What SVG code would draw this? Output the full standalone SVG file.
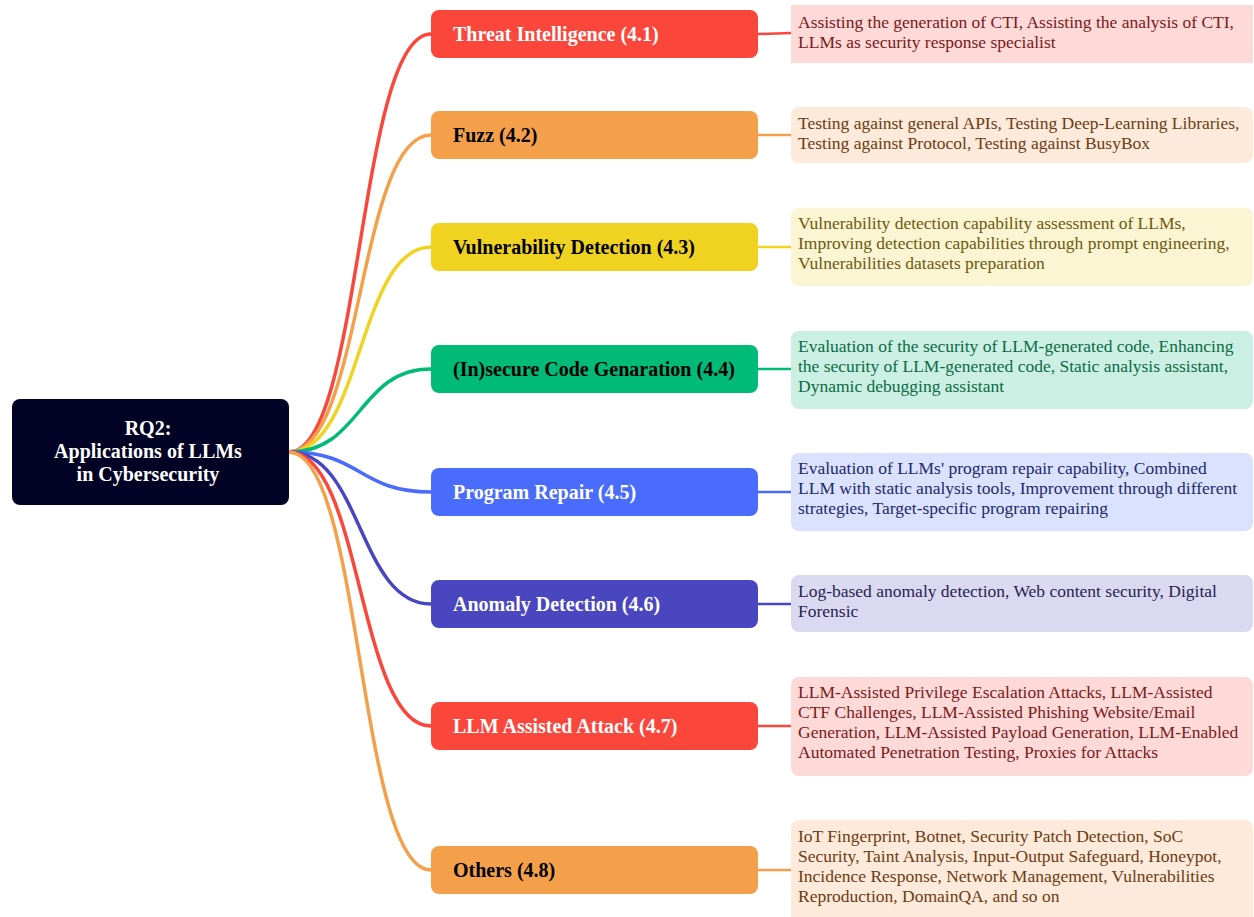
<svg xmlns="http://www.w3.org/2000/svg" width="1254" height="917" viewBox="0 0 1254 917">
<style>
.root{fill:#020224}
.rt{font-family:"Liberation Serif",serif;font-weight:bold;font-size:20px;fill:#fff;text-anchor:middle}
.bt{font-family:"Liberation Serif",serif;font-weight:bold;font-size:20px}
.lt{font-family:"Liberation Serif",serif;font-size:17.5px}
.c{fill:none;stroke-width:3.5;stroke-linecap:round}
.w{fill:#fff}.k{fill:#000}
</style>
<rect width="1254" height="917" fill="#fff"/>
<g id="connectors">
<path class="c" stroke="#fb463c" d="M289,452 C362,452 358,34 431,34"/>
<path class="c" stroke="#f4a04b" d="M289,452 C362,452 358,135 431,135"/>
<path class="c" stroke="#f0d320" d="M289,452 C362,452 358,247 431,247"/>
<path class="c" stroke="#00bb77" d="M289,452 C362,452 358,369 431,369"/>
<path class="c" stroke="#4a6cfc" d="M289,452 C362,452 358,492 431,492"/>
<path class="c" stroke="#4a46bf" d="M289,452 C362,452 358,604 431,604"/>
<path class="c" stroke="#fb463c" d="M289,452 C362,452 358,726 431,726"/>
<path class="c" stroke="#f4a04b" d="M289,452 C362,452 358,870 431,870"/>
<g stroke-width="2.5" fill="none">
<path stroke="#fb463c" d="M758,34 L791,33"/>
<path stroke="#f4a04b" d="M758,135 L791,135"/>
<path stroke="#f0d320" d="M758,247 L791,247"/>
<path stroke="#00bb77" d="M758,369 L791,369"/>
<path stroke="#4a6cfc" d="M758,492 L791,492"/>
<path stroke="#4a46bf" d="M758,604 L791,604"/>
<path stroke="#fb463c" d="M758,726 L791,726"/>
<path stroke="#f4a04b" d="M758,870 L791,870"/>
</g>
</g>
<g id="root">
<rect class="root" x="12" y="399" width="277" height="106" rx="8"/>
<text class="rt" x="148" y="435">RQ2:</text>
<text class="rt" x="148" y="458">Applications of LLMs</text>
<text class="rt" x="148" y="481">in Cybersecurity</text>
</g>
<g id="b1"><rect x="431" y="10" width="327" height="48" rx="8" fill="#fb463c"/><text class="bt w" x="453" y="41">Threat Intelligence (4.1)</text></g>
<g id="b2"><rect x="431" y="111" width="327" height="48" rx="8" fill="#f4a04b"/><text class="bt k" x="453" y="142">Fuzz (4.2)</text></g>
<g id="b3"><rect x="431" y="223" width="327" height="48" rx="8" fill="#f0d320"/><text class="bt k" x="453" y="254">Vulnerability Detection (4.3)</text></g>
<g id="b4"><rect x="431" y="345" width="327" height="48" rx="8" fill="#00bb77"/><text class="bt k" x="453" y="376">(In)secure Code Genaration (4.4)</text></g>
<g id="b5"><rect x="431" y="468" width="327" height="48" rx="8" fill="#4a6cfc"/><text class="bt w" x="453" y="499">Program Repair (4.5)</text></g>
<g id="b6"><rect x="431" y="580" width="327" height="48" rx="8" fill="#4a46bf"/><text class="bt w" x="453" y="611">Anomaly Detection (4.6)</text></g>
<g id="b7"><rect x="431" y="702" width="327" height="48" rx="8" fill="#fb463c"/><text class="bt w" x="453" y="733">LLM Assisted Attack (4.7)</text></g>
<g id="b8"><rect x="431" y="846" width="327" height="48" rx="8" fill="#f4a04b"/><text class="bt k" x="453" y="877">Others (4.8)</text></g>
<g id="l1"><rect x="791" y="5" width="462" height="58" fill="#fdd9d8"/>
<text class="lt" fill="#7a1a1a" x="798"><tspan x="798" y="28">Assisting the generation of CTI, Assisting the analysis of CTI,</tspan><tspan x="798" y="48">LLMs as security response specialist</tspan></text></g>
<g id="l2"><rect x="791" y="107" width="462" height="56" rx="8" fill="#fdeadb"/>
<text class="lt" fill="#6b3c14"><tspan x="798" y="129">Testing against general APIs, Testing Deep-Learning Libraries,</tspan><tspan x="798" y="149">Testing against Protocol, Testing against BusyBox</tspan></text></g>
<g id="l3"><rect x="791" y="208" width="462" height="78" rx="8" fill="#fcf5d3"/>
<text class="lt" fill="#6b5a10"><tspan x="798" y="229">Vulnerability detection capability assessment of LLMs,</tspan><tspan x="798" y="249">Improving detection capabilities through prompt engineering,</tspan><tspan x="798" y="269">Vulnerabilities datasets preparation</tspan></text></g>
<g id="l4"><rect x="791" y="331" width="462" height="78" rx="8" fill="#ccefe3"/>
<text class="lt" fill="#0b6b45"><tspan x="798" y="352">Evaluation of the security of LLM-generated code, Enhancing</tspan><tspan x="798" y="372">the security of LLM-generated code, Static analysis assistant,</tspan><tspan x="798" y="392">Dynamic debugging assistant</tspan></text></g>
<g id="l5"><rect x="791" y="453" width="462" height="78" rx="8" fill="#dbe2fe"/>
<text class="lt" fill="#1c2a6b"><tspan x="798" y="474">Evaluation of LLMs' program repair capability, Combined</tspan><tspan x="798" y="494">LLM with static analysis tools, Improvement through different</tspan><tspan x="798" y="514">strategies, Target-specific program repairing</tspan></text></g>
<g id="l6"><rect x="791" y="575" width="462" height="57" rx="8" fill="#dbd9f2"/>
<text class="lt" fill="#26244f"><tspan x="798" y="597">Log-based anomaly detection, Web content security, Digital</tspan><tspan x="798" y="617">Forensic</tspan></text></g>
<g id="l7"><rect x="791" y="677" width="462" height="99" rx="8" fill="#fdd9d8"/>
<text class="lt" fill="#7a1a1a"><tspan x="798" y="698">LLM-Assisted Privilege Escalation Attacks, LLM-Assisted</tspan><tspan x="798" y="718">CTF Challenges, LLM-Assisted Phishing Website/Email</tspan><tspan x="798" y="738">Generation, LLM-Assisted Payload Generation, LLM-Enabled</tspan><tspan x="798" y="758">Automated Penetration Testing, Proxies for Attacks</tspan></text></g>
<g id="l8"><rect x="791" y="820" width="462" height="105" rx="8" fill="#fdeadb"/>
<text class="lt" fill="#6b3c14"><tspan x="798" y="842">IoT Fingerprint, Botnet, Security Patch Detection, SoC</tspan><tspan x="798" y="862">Security, Taint Analysis, Input-Output Safeguard, Honeypot,</tspan><tspan x="798" y="882">Incidence Response, Network Management, Vulnerabilities</tspan><tspan x="798" y="902">Reproduction, DomainQA, and so on</tspan></text></g>
</svg>
